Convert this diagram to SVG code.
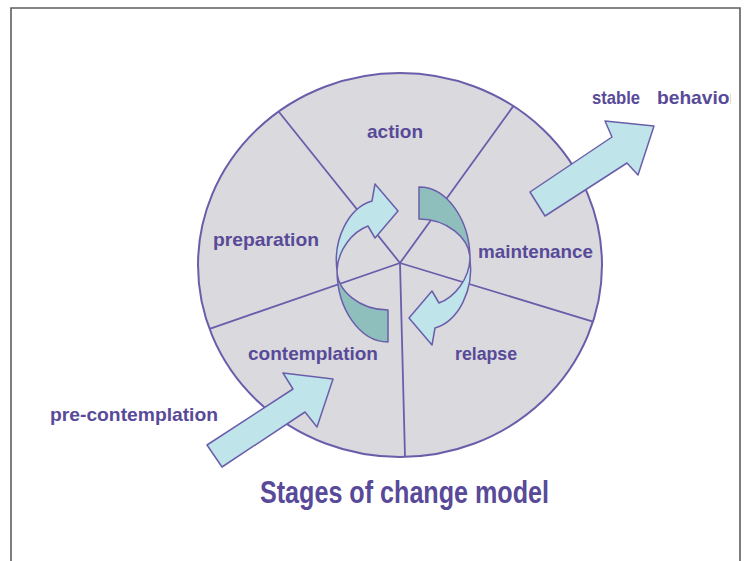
<svg xmlns="http://www.w3.org/2000/svg" width="749" height="561" viewBox="0 0 749 561">
<style>
.lbl{font-family:"Liberation Sans",Arial,sans-serif;font-weight:bold;font-size:19px;fill:#584a98}
.ttl{font-family:"Liberation Sans",Arial,sans-serif;font-weight:bold;font-size:31px;fill:#584a98}
.spoke{stroke:#6a5eab;stroke-width:1.8;fill:none}
.light{fill:#bfe5ea;stroke:#6a5eab;stroke-width:1.5;stroke-linejoin:round}
.dark{fill:#8fbfbd;stroke:#6a5eab;stroke-width:1.5;stroke-linejoin:round}
</style>
<defs>
<clipPath id="cut"><rect x="0" y="0" width="731" height="561"/></clipPath>
<g id="cyc">
<path class="dark" d="M337,270 C337,309 360,342 388,342 L388,310 C360,310 337,291 337,270 Z"/>
<path class="light" d="M337,270 C333,240 348,208 372,201 L375,184 L398,211 L375,238 L368,226 C352,232 338,250 337,270 Z"/>
</g>
</defs>
<rect x="0" y="0" width="749" height="561" fill="#ffffff"/>
<path d="M11,561 V8 H740 V561" fill="none" stroke="#5e5e5e" stroke-width="1.6"/>
<g id="wheel">
<ellipse cx="400" cy="265" rx="202" ry="192" fill="#d9d9de"/>
<path class="spoke" d="M400,263 L278.6,111.5 M400,263 L513.3,106.1 M400,263 L592.9,321.6 M400,263 L405,457 M400,263 L209.6,328.8"/>
<ellipse cx="400" cy="265" rx="202" ry="192" fill="none" stroke="#6a5eab" stroke-width="2"/>
</g>
<g id="connectors">
<use href="#cyc"/>
<use href="#cyc" transform="rotate(180 403.5 264.5)"/>
<polygon class="light" points="530,192 612,137 605,121 654,126 638,175 627,163 545,216"/>
<polygon class="light" points="207,445 293,389 283,373 333,379 317,427 305,412 222,467"/>
</g>
<g id="action"><text class="lbl" x="367" y="138" textLength="56" lengthAdjust="spacingAndGlyphs">action</text></g>
<g id="preparation"><text class="lbl" x="213" y="246" textLength="106" lengthAdjust="spacingAndGlyphs">preparation</text></g>
<g id="maintenance"><text class="lbl" x="478" y="258" textLength="115" lengthAdjust="spacingAndGlyphs">maintenance</text></g>
<g id="contemplation"><text class="lbl" x="248" y="360" textLength="130" lengthAdjust="spacingAndGlyphs">contemplation</text></g>
<g id="relapse"><text class="lbl" x="455" y="360" textLength="62" lengthAdjust="spacingAndGlyphs">relapse</text></g>
<g id="pre-contemplation"><text class="lbl" x="50" y="421" textLength="168" lengthAdjust="spacingAndGlyphs">pre-contemplation</text></g>
<g id="stable-behavior" clip-path="url(#cut)"><text class="lbl" y="104"><tspan x="592" textLength="48" lengthAdjust="spacingAndGlyphs">stable</tspan> <tspan x="657" textLength="80" lengthAdjust="spacingAndGlyphs">behavior</tspan></text></g>
<g id="title"><text class="ttl" x="260" y="503" textLength="289" lengthAdjust="spacingAndGlyphs">Stages of change model</text></g>
</svg>
